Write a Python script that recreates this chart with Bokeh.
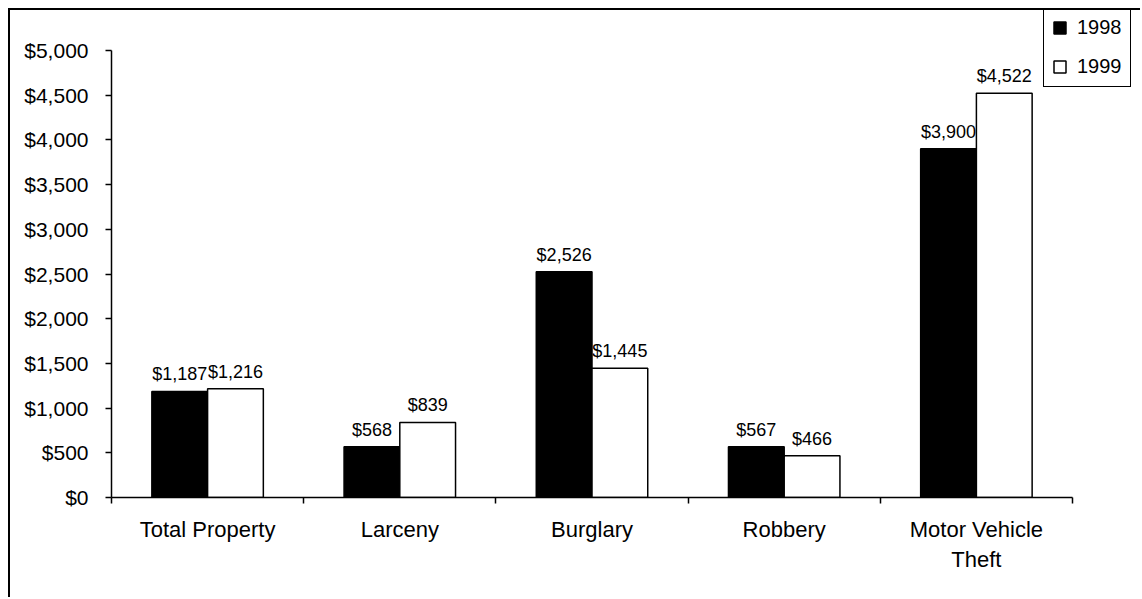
from bokeh.plotting import figure
from bokeh.models import (ColumnDataSource, Range1d, FixedTicker, NumeralTickFormatter,
                          Legend, LegendItem)
from bokeh.transform import dodge
from bokeh.core.properties import value
from bokeh.embed import file_html
from bokeh.resources import INLINE

categories = ["Total Property", "Larceny", "Burglary", "Robbery", "Motor Vehicle\nTheft"]
years = ["1998", "1999"]
values_1998 = [1187, 568, 2526, 567, 3900]
values_1999 = [1216, 839, 1445, 466, 4522]
y_ticks = list(range(0, 5001, 500))
y_max = 5000

FONT = "Liberation Sans"
idx = list(range(len(categories)))
n = len(categories)

# layout (pixels)
W, H = 1132, 589
left, bottom = 101, 102
axis_px_x = 961      # pixel length of the x axis (all categories)
axis_px_y = 447      # pixel length of the y axis (0..y_max)
frame_w = W - left
frame_h = H - bottom

src = ColumnDataSource(data=dict(
    x=idx,
    v98=values_1998,
    v99=values_1999,
    l98=["${:,}".format(v) for v in values_1998],
    l99=["${:,}".format(v) for v in values_1999],
))

p = figure(width=W, height=H, output_backend="svg", toolbar_location=None,
           x_range=Range1d(-0.5, -0.5 + n * frame_w / axis_px_x),
           y_range=Range1d(0, y_max * frame_h / axis_px_y),
           min_border_left=left, min_border_right=0, min_border_top=0, min_border_bottom=bottom)
p.styles = {"border-left": "2px solid black", "border-top": "2px solid black",
            "margin-left": "8px", "margin-top": "8px"}
p.outline_line_color = None
p.grid.visible = False
p.background_fill_color = "white"
p.border_fill_color = "white"

bw = 0.29
off = 0.145
r98 = p.vbar(x=dodge("x", -off, range=p.x_range), top="v98", width=bw, source=src,
             fill_color="black", line_color="black", line_width=1.5)
r99 = p.vbar(x=dodge("x", off, range=p.x_range), top="v99", width=bw, source=src,
             fill_color="white", line_color="black", line_width=1.5)

p.text(x=dodge("x", -off, range=p.x_range), y="v98", text="l98", source=src,
       text_font=value(FONT), text_font_size="18px", text_align="center",
       text_baseline="alphabetic", y_offset=-17, text_color="black")
p.text(x=dodge("x", off, range=p.x_range), y="v99", text="l99", source=src,
       text_font=value(FONT), text_font_size="18px", text_align="center",
       text_baseline="alphabetic", y_offset=-17, text_color="black")

# y axis
ya = p.yaxis[0]
ya.bounds = (0, y_max)
ya.ticker = FixedTicker(ticks=y_ticks)
ya.formatter = NumeralTickFormatter(format="$0,0")
ya.major_tick_out = 6
ya.major_tick_in = 0
ya.minor_tick_line_color = None
ya.axis_line_width = 1.5
ya.major_tick_line_width = 1.5
ya.axis_line_color = "black"
ya.major_label_text_font = FONT
ya.major_label_text_font_size = "21px"
ya.major_label_text_color = "black"
ya.major_label_standoff = 17

# x axis
xa = p.xaxis[0]
xa.bounds = (-0.5, n - 0.5)
xa.ticker = FixedTicker(ticks=idx, minor_ticks=[i - 0.5 for i in range(n + 1)])
xa.major_label_overrides = {i: c for i, c in enumerate(categories)}
xa.major_tick_line_color = None
xa.major_tick_out = 6
xa.major_tick_in = 0
xa.minor_tick_out = 6
xa.minor_tick_in = 0
xa.minor_tick_line_color = "black"
xa.minor_tick_line_width = 1.5
xa.axis_line_width = 1.5
xa.axis_line_color = "black"
xa.major_label_text_font = FONT
xa.major_label_text_font_size = "22px"
xa.major_label_text_color = "black"
xa.major_label_standoff = 13

legend = Legend(items=[LegendItem(label=years[0], renderers=[r98]),
                       LegendItem(label=years[1], renderers=[r99])],
                location=(932, 410))
legend.border_line_color = "black"
legend.border_line_alpha = 1.0
legend.border_line_width = 1.5
legend.background_fill_color = "white"
legend.background_fill_alpha = 1.0
legend.glyph_width = 15
legend.glyph_height = 15
legend.label_text_font = FONT
legend.label_text_font_size = "20px"
legend.label_text_color = "black"
legend.label_height = 20
legend.label_standoff = 10
legend.spacing = 16
legend.padding = 8
legend.margin = 0
p.add_layout(legend)

open("out.html", "w").write(file_html(p, INLINE))
